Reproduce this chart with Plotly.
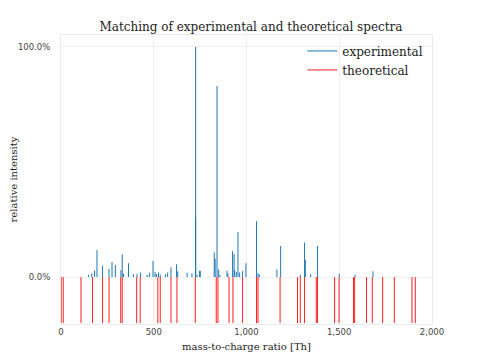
import plotly.graph_objects as go

# experimental peaks (m/z, relative intensity %)
exp_mz = [149, 166, 181, 194, 224, 259, 275, 293, 323, 330, 337, 364, 390, 410, 429,
          464, 476, 496, 507, 515, 526, 535, 564, 575, 593, 623, 629, 680, 706, 726, 726,
          733, 746, 751, 826, 831, 841, 850, 857, 895, 900, 925, 933, 936, 945, 954,
          963, 979, 997, 1054, 1062, 1069, 1164, 1184, 1290, 1313, 1317, 1346, 1383,
          1500, 1585, 1682]
exp_int = [1.0, 1.6, 2.8, 11.7, 4.9, 3.5, 6.5, 5.2, 3.0, 9.9, 1.5, 6.0, 1.3, 1.3, 2.0,
           0.9, 1.9, 7.0, 2.3, 1.3, 2.0, 1.0, 1.3, 2.0, 4.2, 5.6, 2.5, 1.9, 1.6, 100.0, 26.0,
           0.9, 2.7, 2.7, 10.7, 8.0, 83.0, 3.3, 0.9, 2.7, 1.6, 11.3, 10.0, 3.0, 2.3, 19.6,
           2.0, 2.6, 6.0, 24.3, 1.6, 1.2, 3.3, 13.5, 1.0, 15.0, 7.5, 1.3, 13.5,
           1.4, 1.0, 2.5]

# theoretical peaks (m/z), drawn downward
theo_mz = [1, 12, 108, 170, 224, 259, 322, 330, 408, 427, 522, 535, 593, 625, 724,
           837, 846, 906, 927, 979, 1054, 1062, 1181, 1275, 1290, 1313, 1376, 1383,
           1475, 1499, 1577, 1583, 1647, 1678, 1734, 1797, 1892, 1910]
theo_int = [-20.0] * len(theo_mz)

x_ticks = [0, 500, 1000, 1500, 2000]
x_tick_labels = ["0", "500", "1,000", "1,500", "2,000"]
y_ticks = [0, 100]
y_tick_labels = ["0.0%", "100.0%"]


def stems(xs, ys):
    sx, sy = [], []
    for x, y in zip(xs, ys):
        sx += [x, x, None]
        sy += [0, y, None]
    return sx, sy


ex, ey = stems(exp_mz, exp_int)
tx, ty = stems(theo_mz, theo_int)

fig = go.Figure()
fig.add_trace(go.Scatter(x=ex, y=ey, mode="lines", name="experimental",
                         line=dict(color="#1f77b4", width=1)))
fig.add_trace(go.Scatter(x=tx, y=ty, mode="lines", name="theoretical",
                         line=dict(color="#ff2020", width=1)))

serif = "DejaVu Serif"
fig.update_layout(
    width=480, height=360,
    margin=dict(l=53, r=56, t=27, b=44, autoexpand=False),
    paper_bgcolor="white", plot_bgcolor="white",
    title=dict(text="Matching of experimental and theoretical spectra",
               x=0.512, xanchor="center", xref="paper",
               y=1 - 19 / 360, yanchor="middle", yref="container",
               font=dict(family=serif, size=12, color="#222")),
    showlegend=True,
    legend=dict(x=0.99, y=0.995, xanchor="right", yanchor="top",
                bgcolor="rgba(0,0,0,0)", font=dict(family=serif, size=12, color="#222"),
                itemwidth=30, tracegroupgap=0),
    xaxis=dict(range=[0, 2000], tickvals=x_ticks, ticktext=x_tick_labels,
               automargin=False,
               showgrid=True, gridcolor="#f0f0f0", gridwidth=1,
               showline=True, linecolor="#ebebeb", mirror=True, zeroline=False,
               ticks="", tickfont=dict(family="DejaVu Sans", size=8.5, color="#444"),
               title=dict(text="mass-to-charge ratio [Th]", standoff=6,
                          font=dict(family=serif, size=10, color="#222"))),
    yaxis=dict(range=[-20.4, 105.2], tickvals=y_ticks, ticktext=y_tick_labels,
               automargin=False, ticklabelstandoff=8,
               showgrid=True, gridcolor="#f0f0f0", gridwidth=1,
               showline=True, linecolor="#ebebeb", mirror=True, zeroline=False,
               ticks="", tickfont=dict(family="DejaVu Sans", size=8.5, color="#444"),
               title=dict(text="relative intensity", standoff=4,
                          font=dict(family=serif, size=10, color="#222"))),
)

fig.write_html("out.html")
